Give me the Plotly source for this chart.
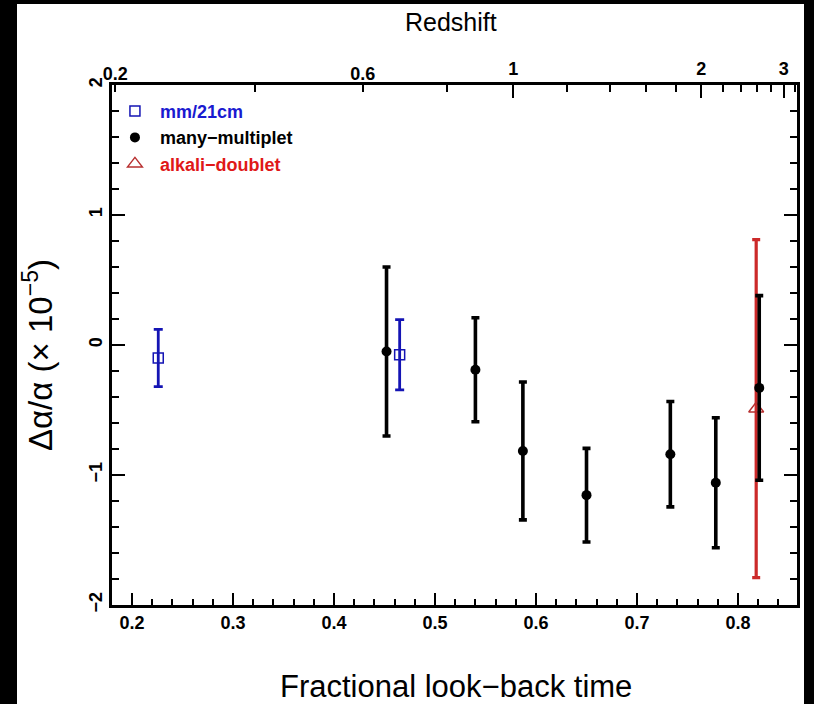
import numpy as np
import plotly.graph_objects as go

# ---- data ----
mm_x = [0.226, 0.465]
mm_y = [-0.10, -0.075]
mm_err = [0.22, 0.27]

mmul_x = [0.452, 0.540, 0.587, 0.650, 0.733, 0.778, 0.821]
mmul_y = [-0.05, -0.19, -0.815, -1.155, -0.84, -1.06, -0.33]
mmul_err = [0.65, 0.40, 0.53, 0.36, 0.405, 0.50, 0.71]

ad_x = [0.818]
ad_y = [-0.49]
ad_err = [1.30]

z_major = [1, 2, 3]
z_labeled_minor = [0.2, 0.6]
z_minor = [0.4, 0.8, 1.2, 1.4, 1.6, 1.8, 2.2, 2.4, 2.6, 2.8, 3.2]

X_RANGE = [0.1802, 0.8584]
Y_RANGE = [-2, 2]

# fractional look-back time for flat LCDM (axis mapping for the top scale)
OM, OL = 0.32, 0.68


def lookback(z):
    a = np.sqrt(OL / OM)
    z = np.asarray(z, dtype=float)
    return (1 - np.arcsinh(a * (1 + z) ** -1.5) / np.arcsinh(a)).tolist()


BLUE = "#1414b4"
RED = "#cc2a2a"
TICKFONT = dict(family="Liberation Sans, Arial, sans-serif", size=18, color="black", weight="bold")

fig = go.Figure()

fig.add_hline(y=0, line=dict(color="black", width=3.5, dash="20px,16px"), layer="below")

fig.add_trace(go.Scatter(
    x=ad_x, y=ad_y, mode="markers",
    name='<span style="color:#e01818">alkali\u2212doublet</span>',
    marker=dict(symbol="triangle-up-open", size=13, color="#b83030", line=dict(width=1.4)),
    error_y=dict(type="data", array=ad_err, color=RED, thickness=3.2, width=4),
    legendrank=3,
))
fig.add_trace(go.Scatter(
    x=mmul_x, y=mmul_y, mode="markers",
    name='<span style="color:black">many\u2212multiplet</span>',
    marker=dict(symbol="circle", size=10, color="black"),
    error_y=dict(type="data", array=mmul_err, color="black", thickness=3.6, width=4),
    legendrank=2,
))
fig.add_trace(go.Scatter(
    x=mm_x, y=mm_y, mode="markers",
    name='<span style="color:#1a1ad0">mm/21cm</span>',
    marker=dict(symbol="square-open", size=10, color=BLUE, line=dict(width=1.5)),
    error_y=dict(type="data", array=mm_err, color=BLUE, thickness=2.8, width=4.5),
    legendrank=1,
))

axis_line = dict(showline=True, linecolor="black", linewidth=2.5, showgrid=False, zeroline=False)

fig.update_layout(
    width=814, height=704,
    margin=dict(l=112, r=17, t=85, b=99),
    paper_bgcolor="black", plot_bgcolor="white",
    showlegend=True,
    legend=dict(x=-0.003, y=0.985, xanchor="left", yanchor="top", bgcolor="rgba(0,0,0,0)",
                font=dict(family="Liberation Sans, Arial, sans-serif", size=18, weight="bold"),
                itemwidth=40, tracegroupgap=0),
    xaxis=dict(range=X_RANGE, **axis_line, mirror=False,
               tickmode="linear", tick0=0.2, dtick=0.1, ticks="inside", ticklen=12, tickwidth=2,
               tickcolor="black", tickformat=".1f", tickfont=TICKFONT,
               minor=dict(dtick=0.02, ticks="inside", ticklen=6, tickwidth=1.8, tickcolor="black")),
    xaxis2=dict(range=X_RANGE, overlaying="x", side="top", anchor="y", **axis_line,
                tickmode="array", tickvals=lookback(z_major), ticktext=[str(z) for z in z_major],
                ticks="inside", ticklen=13, tickwidth=2, tickcolor="black", tickfont=TICKFONT),
    xaxis3=dict(range=X_RANGE, overlaying="x", side="top", anchor="y", showline=False,
                showgrid=False, zeroline=False,
                tickmode="array", tickvals=lookback(z_labeled_minor),
                ticktext=[str(z) for z in z_labeled_minor],
                ticks="inside", ticklen=7, tickwidth=1.8, tickcolor="black", tickfont=TICKFONT,
                minor=dict(tickmode="array", tickvals=lookback(z_minor), ticks="inside",
                           ticklen=7, tickwidth=1.8, tickcolor="black")),
    yaxis=dict(range=Y_RANGE, **axis_line, mirror="ticks",
               tickmode="linear", tick0=0, dtick=1, ticks="inside", ticklen=13, tickwidth=2,
               tickcolor="black", tickfont=TICKFONT, tickangle=-90,
               minor=dict(dtick=0.2, ticks="inside", ticklen=7, tickwidth=1.8, tickcolor="black")),
)

# invisible traces so the top axes are drawn
fig.add_trace(go.Scatter(x=[None], y=[None], xaxis="x2", showlegend=False, hoverinfo="skip"))
fig.add_trace(go.Scatter(x=[None], y=[None], xaxis="x3", showlegend=False, hoverinfo="skip"))

# white page area behind the plot
fig.add_shape(type="rect", xref="paper", yref="paper",
              x0=(17 - 112) / 685, x1=(804 - 112) / 685, y0=(605 - 710) / 520, y1=(605 - 4) / 520,
              fillcolor="white", line=dict(width=0), layer="below")

TITLEFONT = dict(family="Liberation Sans, Arial, sans-serif", color="black")
fig.add_annotation(text="Redshift", xref="paper", yref="paper", x=(451 - 112) / 685, y=(605 - 22) / 520,
                   showarrow=False, font=dict(size=25, **TITLEFONT), xanchor="center", yanchor="middle")
fig.add_annotation(text="Fractional look\u2212back time", xref="paper", yref="paper",
                   x=(456 - 112) / 685, y=(605 - 687) / 520,
                   showarrow=False, font=dict(size=31, **TITLEFONT), xanchor="center", yanchor="middle")
fig.add_annotation(text="\u0394\u03b1/\u03b1 (\u00d7 10<sup>\u22125</sup>)", xref="paper", yref="paper",
                   x=(38 - 112) / 685, y=(605 - 355) / 520, textangle=-90,
                   showarrow=False, font=dict(size=33, **TITLEFONT), xanchor="center", yanchor="middle")

fig.write_html(
    "out.html",
    config={"displayModeBar": False},
    post_script="document.body.style.margin='0';document.body.style.background='black';",
)
